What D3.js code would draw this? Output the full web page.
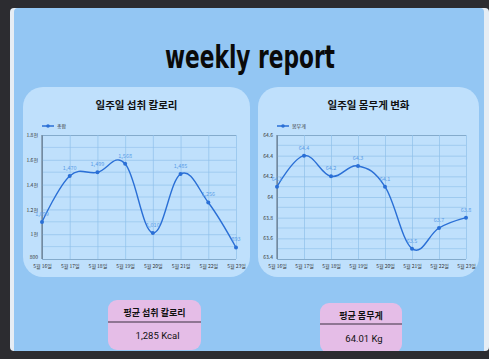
<!DOCTYPE html>
<html><head><meta charset="utf-8">
<script src="https://cdn.jsdelivr.net/npm/d3@7"></script>
<style>
html,body{margin:0;padding:0;background:#2c2c30;}
svg{display:block;}
</style></head>
<body>
<svg id="c" width="489" height="359"></svg>
<script>
const days = ["5월 16일","5월 17일","5월 18일","5월 19일","5월 20일","5월 21일","5월 22일","5월 23일"];
const calories = [1099,1470,1499,1568,1010,1485,1256,893];
const weights = [64.1,64.4,64.2,64.3,64.1,63.5,63.7,63.8];
const calTicks = [800,1000,1200,1400,1600,1800];
const calTickLabels = ["800","1천","1.2천","1.4천","1.6천","1.8천"];
const wTicks = [63.4,63.6,63.8,64,64.2,64.4,64.6];
const wTickLabels = ["63.4","63.6","63.8","64","64.2","64.4","64.6"];
const avgCal = "1,285 Kcal";
const avgW = "64.01 Kg";

const KR = "'Noto Sans CJK KR','Noto Sans',sans-serif";
const svg = d3.select("#c");

// outer card
svg.append("rect").attr("x",10).attr("y",8).attr("width",479).attr("height",343).attr("fill","#e6edf4").attr("rx",4);
svg.append("rect").attr("x",14).attr("y",8).attr("width",470).attr("height",343).attr("fill","#93c6f3").attr("rx",4);
svg.append("rect").attr("x",14).attr("y",20).attr("width",470).attr("height",331).attr("fill","#93c6f3");

svg.append("text").attr("x",250).attr("y",68).attr("text-anchor","middle")
  .attr("font-family","'DejaVu Sans Condensed','DejaVu Sans',sans-serif")
  .attr("font-weight","bold").attr("font-size",32).attr("fill","#0a0a0a")
  .attr("textLength",170).attr("lengthAdjust","spacingAndGlyphs").text("weekly report");

function panel(cfg){
  const g = svg.append("g");
  g.append("rect").attr("x",cfg.px).attr("y",87).attr("width",cfg.pw).attr("height",190).attr("rx",20).attr("fill","#bfe0fc");
  g.append("text").attr("x",cfg.px+cfg.pw/2).attr("y",109).attr("text-anchor","middle")
    .attr("font-family",KR).attr("font-weight","bold").attr("font-size",10.5).attr("fill","#111").text(cfg.title);
  // legend
  const lx = cfg.x0, ly = 126;
  g.append("line").attr("x1",lx).attr("x2",lx+12).attr("y1",ly).attr("y2",ly).attr("stroke","#2a6fd6").attr("stroke-width",1.5);
  g.append("circle").attr("cx",lx+6).attr("cy",ly).attr("r",1.8).attr("fill","#2a6fd6");
  g.append("text").attr("x",lx+15).attr("y",ly+1.8).attr("font-family",KR).attr("font-size",5).attr("fill","#333").text(cfg.legend);

  const x = d3.scalePoint().domain(days).range([cfg.x0, cfg.x1]);
  const y = d3.scaleLinear().domain(cfg.domain).range([259,135]);

  // minor grid
  g.append("g").selectAll("line").data(cfg.minor).join("line")
    .attr("x1",cfg.x0).attr("x2",cfg.x1).attr("y1",d=>y(d)).attr("y2",d=>y(d))
    .attr("stroke","#8fc0ea").attr("stroke-width",0.6);
  const ya = d3.axisLeft(y).tickValues(cfg.ticks).tickFormat((d,i)=>cfg.tickLabels[i]).tickSize(-(cfg.x1-cfg.x0)).tickPadding(4);
  const yg = g.append("g").attr("transform",`translate(${cfg.x0},0)`).call(ya);
  yg.select(".domain").attr("stroke","#6a7a88").attr("stroke-width",1);
  yg.selectAll(".tick line").attr("stroke","#8fc0ea").attr("stroke-width",0.7);
  yg.selectAll(".tick text").attr("font-family",KR).attr("font-size",5).attr("fill","#333")
    .attr("dy",(d,i)=>i===0?"-0.2em":"0.32em");
  const xa = d3.axisBottom(x).tickSize(-(259-135)).tickPadding(4);
  const xg = g.append("g").attr("transform","translate(0,259)").call(xa);
  xg.select(".domain").remove();
  xg.selectAll(".tick line").attr("stroke","#8fc0ea").attr("stroke-width",0.7);
  xg.selectAll(".tick text").attr("font-family",KR).attr("font-size",5).attr("fill","#333").attr("dy","0.9em");
  g.append("line").attr("x1",cfg.x0).attr("x2",cfg.x0).attr("y1",135).attr("y2",259).attr("stroke","#5d6b78").attr("stroke-width",1);

  const line = d3.line().x((d,i)=>x(days[i])).y(d=>y(d)).curve(d3.curveCardinal.tension(-0.15));
  g.append("path").datum(cfg.values).attr("d",line).attr("fill","none").attr("stroke","#2a6fd6").attr("stroke-width",1.4);
  g.append("g").selectAll("circle").data(cfg.values).join("circle")
    .attr("cx",(d,i)=>x(days[i])).attr("cy",d=>y(d)).attr("r",2).attr("fill","#2a6fd6");
  g.append("g").selectAll("text").data(cfg.values).join("text")
    .attr("x",(d,i)=>x(days[i])).attr("y",d=>y(d)-6).attr("text-anchor","middle")
    .attr("font-family",KR).attr("font-size",5.5).attr("fill","#5c9ee8").text(cfg.fmt);
}

panel({px:23,pw:227,title:"일주일 섭취 칼로리",legend:"총합",x0:42,x1:236,domain:[800,1800],
  ticks:calTicks,tickLabels:calTickLabels,minor:d3.range(900,1800,200),values:calories,fmt:d3.format(",")});
panel({px:258,pw:221,title:"일주일 몸무게 변화",legend:"몸무게",x0:277,x1:466,domain:[63.4,64.6],
  ticks:wTicks,tickLabels:wTickLabels,minor:[63.5,63.7,63.9,64.1,64.3,64.5],values:weights,fmt:d=>d3.format(".1f")(d)});

function box(x,yTop,w,h,div,title,ty,val,vy){
  svg.append("rect").attr("x",x).attr("y",yTop).attr("width",w).attr("height",h).attr("rx",9).attr("fill","#e5bde7");
  svg.append("line").attr("x1",x).attr("x2",x+w).attr("y1",div).attr("y2",div).attr("stroke","#3a3040").attr("stroke-width",1.2);
  svg.append("text").attr("x",x+w/2).attr("y",ty).attr("text-anchor","middle").attr("font-family",KR)
    .attr("font-weight","bold").attr("font-size",9).attr("fill","#111").text(title);
  svg.append("text").attr("x",x+w/2+3).attr("y",vy).attr("text-anchor","middle").attr("font-family","Roboto,'Noto Sans',sans-serif")
    .attr("font-size",9.5).attr("fill","#111").text(val);
}
box(108,300,93,50,322,"평균 섭취 칼로리",316,avgCal,339);
box(320,303,82,50,324,"평균 몸무게",319,avgW,342);
svg.append("rect").attr("x",0).attr("y",351).attr("width",489).attr("height",8).attr("fill","#2c2c30");
</script>
</body></html>
